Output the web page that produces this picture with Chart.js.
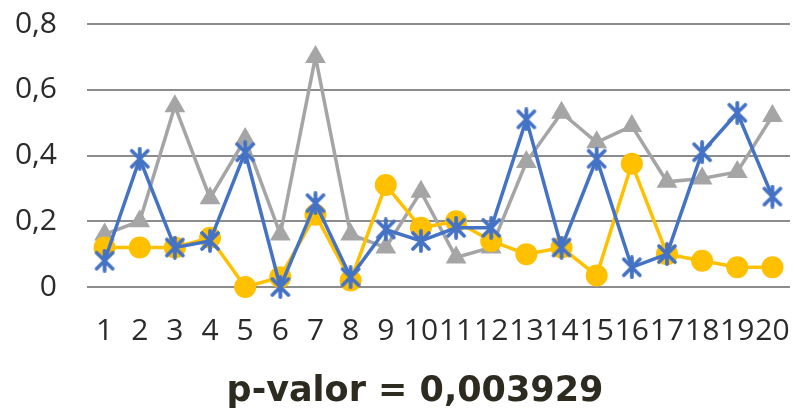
<!DOCTYPE html>
<html>
<head>
<meta charset="utf-8">
<script src="https://cdn.jsdelivr.net/npm/chart.js@4/dist/chart.umd.min.js"></script>
<style>
html,body{margin:0;padding:0;background:#fff;}
#wrap{width:794px;height:411px;position:relative;}
</style>
</head>
<body>
<div id="wrap"><canvas id="c" width="794" height="411"></canvas></div>
<script>
const categories = ['1','2','3','4','5','6','7','8','9','10','11','12','13','14','15','16','17','18','19','20'];
const graySeries   = [0.16,0.20,0.55,0.27,0.45,0.16,0.70,0.16,0.12,0.29,0.09,0.12,0.38,0.53,0.44,0.49,0.32,0.33,0.35,0.52];
const blueSeries   = [0.08,0.39,0.12,0.14,0.41,0.00,0.255,0.03,0.175,0.14,0.18,0.18,0.51,0.12,0.39,0.06,0.10,0.41,0.53,0.275];
const yellowSeries = [0.12,0.12,0.12,0.15,0.00,0.03,0.22,0.02,0.31,0.18,0.20,0.14,0.10,0.12,0.035,0.375,0.10,0.08,0.06,0.06];
const yTickLabels  = ['0','0,2','0,4','0,6','0,8'];
const titleText    = 'p-valor = 0,003929';

function starMarker(color){
  const s = 24, c = document.createElement('canvas');
  c.width = s; c.height = s;
  const g = c.getContext('2d');
  g.strokeStyle = color; g.lineWidth = 3.8; g.lineCap = 'round';
  g.beginPath();
  g.moveTo(4,4); g.lineTo(20,20);
  g.moveTo(20,4); g.lineTo(4,20);
  g.moveTo(12,2); g.lineTo(12,22);
  g.stroke();
  return c;
}

const bottomTitle = {
  id: 'bottomTitle',
  afterDraw(chart) {
    const g = chart.ctx;
    g.save();
    g.font = 'bold 35px "DejaVu Sans"';
    g.fillStyle = '#2d2a1f';
    g.textAlign = 'center';
    g.textBaseline = 'alphabetic';
    g.fillText(titleText, 415, 401);
    g.restore();
  }
};

const ctx = document.getElementById('c').getContext('2d');
new Chart(ctx, {
  type: 'line',
  data: {
    labels: categories,
    datasets: [
      {
        data: blueSeries, order: 0,
        borderColor: '#4472C4', backgroundColor: '#4472C4', borderWidth: 3.5,
        pointStyle: starMarker('#4472C4'), pointRadius: 10, tension: 0, clip: false
      },
      {
        data: yellowSeries, order: 1,
        borderColor: '#FFC000', backgroundColor: '#FFC000', borderWidth: 3.5,
        pointStyle: 'circle', pointRadius: 11, pointBorderWidth: 0, tension: 0, clip: false
      },
      {
        data: graySeries, order: 2,
        borderColor: '#A5A5A5', backgroundColor: '#A5A5A5', borderWidth: 3.5,
        pointStyle: 'triangle', pointRadius: 12, pointBorderWidth: 0, tension: 0, clip: false
      }
    ]
  },
  options: {
    responsive: false,
    animation: false,
    devicePixelRatio: 1,
    layout: { autoPadding: false, padding: { top: 24, right: 4, left: 0, bottom: 45 } },
    plugins: {
      legend: { display: false },
      tooltip: { enabled: false },
      title: { display: false }
    },
    scales: {
      x: {
        offset: true,
        grid: { display: false, drawTicks: false },
        border: { display: false },
        ticks: {
          autoSkip: false, maxRotation: 0, minRotation: 0, padding: 26,
          color: '#2b2b2b', font: { family: 'Open Sans', size: 30 }
        },
        afterFit: (s) => { s.height = 79; s.paddingLeft = 0; s.paddingRight = 0; }
      },
      y: {
        min: 0, max: 0.8,
        grid: { color: '#8c8c8c', lineWidth: 2, drawTicks: false },
        border: { display: false },
        ticks: {
          stepSize: 0.2, padding: 30,
          color: '#2b2b2b', font: { family: 'Open Sans', size: 30 },
          callback: (v, i) => yTickLabels[i]
        },
        afterFit: (s) => { s.width = 87; s.paddingTop = 0; s.paddingBottom = 0; }
      }
    }
  },
  plugins: [bottomTitle]
});
</script>
</body>
</html>
